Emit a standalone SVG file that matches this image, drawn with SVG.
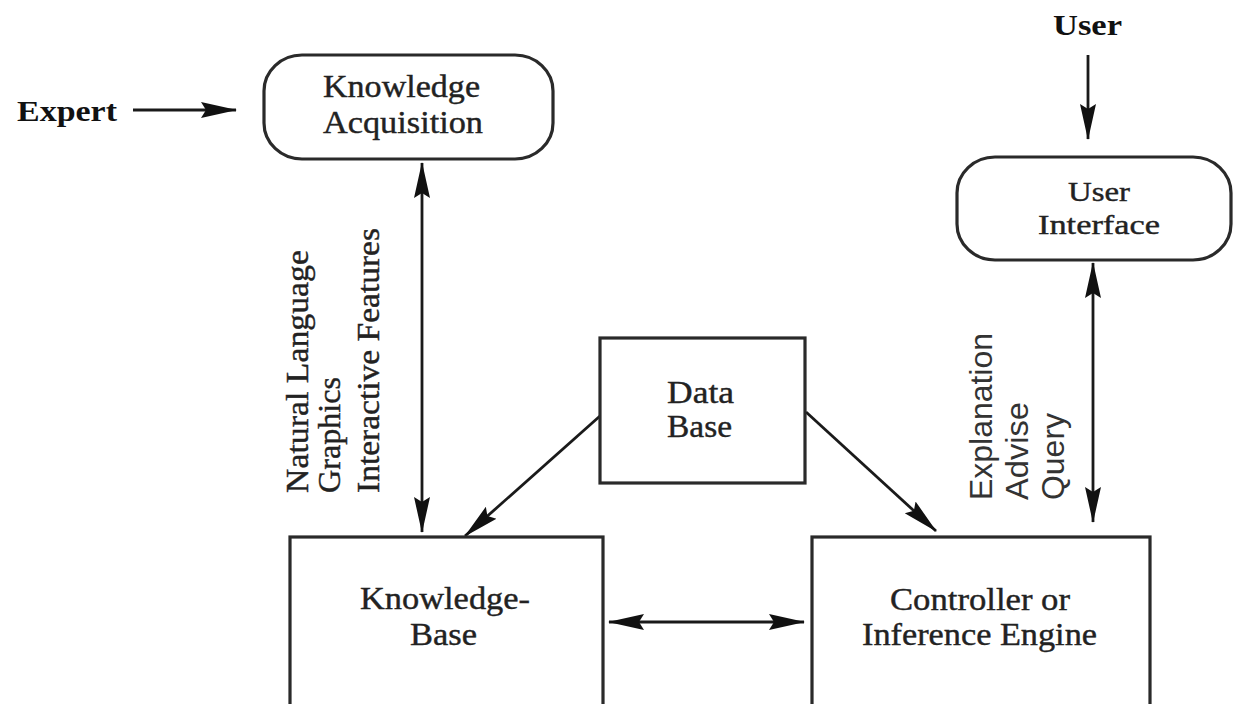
<svg xmlns="http://www.w3.org/2000/svg" width="1233" height="704" viewBox="0 0 1233 704">
<style>
.box{fill:#fff;stroke:#2a2a2a;stroke-width:3.2}
.lbl{font-family:"Liberation Serif","Times New Roman",Times,serif;font-size:31px;fill:#222;stroke:#222;stroke-width:0.4}
.sm{font-size:28px}
.bold{font-family:"Liberation Serif","Times New Roman",Times,serif;font-size:29px;font-weight:bold;fill:#111}
.sans{font-family:"Liberation Sans",Arial,sans-serif;font-size:32px;fill:#333}
.edge{fill:none;stroke:#1a1a1a;stroke-width:2.8}
</style>
<defs>
<marker id="ah" markerUnits="userSpaceOnUse" markerWidth="40" markerHeight="20" refX="35" refY="9" orient="auto-start-reverse">
<path d="M0,1 L36,9 L0,17 L5,9 z" fill="#111"/>
</marker>
</defs>
<rect width="1233" height="704" fill="#fff"/>
<g id="connectors">
<line class="edge" x1="133" y1="110" x2="236" y2="110" marker-end="url(#ah)"/>
<line class="edge" x1="1088" y1="55" x2="1088" y2="139" marker-end="url(#ah)"/>
<line class="edge" x1="422" y1="163" x2="422" y2="532" marker-start="url(#ah)" marker-end="url(#ah)"/>
<line class="edge" x1="1093" y1="263" x2="1093" y2="522" marker-start="url(#ah)" marker-end="url(#ah)"/>
<line class="edge" x1="609" y1="622" x2="804" y2="622" marker-start="url(#ah)" marker-end="url(#ah)"/>
<line class="edge" x1="600" y1="416" x2="465" y2="536" marker-end="url(#ah)"/>
<line class="edge" x1="806" y1="412" x2="936" y2="531" marker-end="url(#ah)"/>
<g id="label-left">
<text class="lbl" transform="translate(308,493) rotate(-90)" textLength="243" lengthAdjust="spacingAndGlyphs">Natural Language</text>
<text class="lbl" transform="translate(340,493) rotate(-90)" textLength="116" lengthAdjust="spacingAndGlyphs">Graphics</text>
<text class="lbl" transform="translate(379,493) rotate(-90)" textLength="265" lengthAdjust="spacingAndGlyphs">Interactive Features</text>
</g>
<g id="label-right">
<text class="sans" transform="translate(992,500) rotate(-90)" textLength="167" lengthAdjust="spacingAndGlyphs">Explanation</text>
<text class="sans" transform="translate(1028,500) rotate(-90)" textLength="98" lengthAdjust="spacingAndGlyphs">Advise</text>
<text class="sans" transform="translate(1064,500) rotate(-90)" textLength="87" lengthAdjust="spacingAndGlyphs">Query</text>
</g>
</g>
<g id="expert">
<text class="bold" x="17" y="121" textLength="100" lengthAdjust="spacingAndGlyphs">Expert</text>
</g>
<g id="user">
<text class="bold" x="1053" y="35" textLength="69" lengthAdjust="spacingAndGlyphs">User</text>
</g>
<g id="knowledge-acquisition">
<rect class="box" x="264" y="55" width="289" height="104" rx="38" ry="36"/>
<text class="lbl" x="323" y="97" textLength="157" lengthAdjust="spacingAndGlyphs">Knowledge</text>
<text class="lbl" x="323" y="133" textLength="160" lengthAdjust="spacingAndGlyphs">Acquisition</text>
</g>
<g id="user-interface">
<rect class="box" x="957" y="157" width="274" height="103" rx="38" ry="36"/>
<text class="lbl sm" x="1068" y="201" textLength="62" lengthAdjust="spacingAndGlyphs">User</text>
<text class="lbl sm" x="1038" y="234" textLength="122" lengthAdjust="spacingAndGlyphs">Interface</text>
</g>
<g id="data-base">
<rect class="box" x="600" y="338" width="205" height="145"/>
<text class="lbl" x="667" y="403" textLength="67" lengthAdjust="spacingAndGlyphs">Data</text>
<text class="lbl" x="667" y="437" textLength="65" lengthAdjust="spacingAndGlyphs">Base</text>
</g>
<g id="knowledge-base">
<rect class="box" x="290" y="537" width="313" height="200"/>
<text class="lbl" x="360" y="609" textLength="170" lengthAdjust="spacingAndGlyphs">Knowledge-</text>
<text class="lbl" x="410" y="645" textLength="67" lengthAdjust="spacingAndGlyphs">Base</text>
</g>
<g id="inference-engine">
<rect class="box" x="812" y="537" width="338" height="200"/>
<text class="lbl" x="890" y="610" textLength="180" lengthAdjust="spacingAndGlyphs">Controller or</text>
<text class="lbl" x="862" y="645" textLength="235" lengthAdjust="spacingAndGlyphs">Inference Engine</text>
</g>
</svg>
